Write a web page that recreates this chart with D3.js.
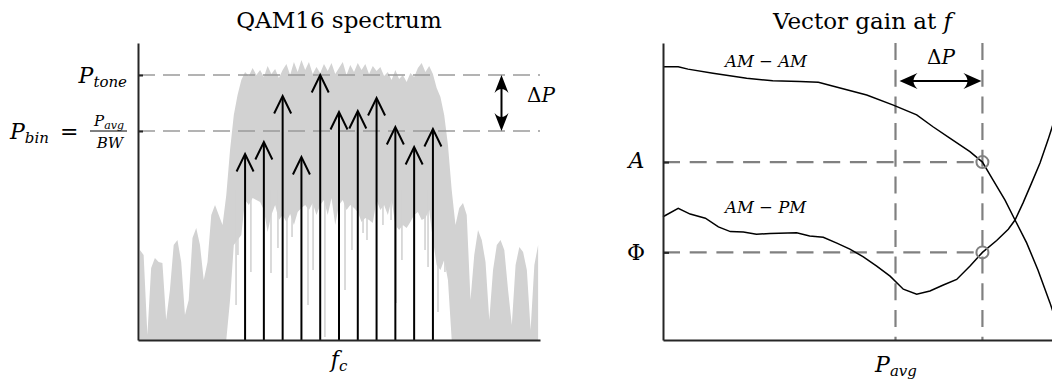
<!DOCTYPE html>
<html>
<head>
<meta charset="utf-8">
<script src="https://cdn.jsdelivr.net/npm/d3@7"></script>
<style>
  body { margin: 0; background: #fff; }
  svg { display: block; font-family: "DejaVu Serif", serif; }
</style>
</head>
<body>
<svg id="chart" width="1052" height="381"></svg>
<script>
// ---------- QAM16 spectrum (left) ----------
// spectrum bins: 0.2 MHz apart, first bin at -10.6 MHz; levels in dB
const specStart = -10.6, specStep = 0.2;
const specUpper = [
  -42, -43, -59, -45.6, -43.6, -44.4, -44.6, -56, -50, -41,
  -40, -44.4, -55, -52, -39.6, -37.6, -41, -48, -44.4, -35,
  -33, -35, -37, -31, -22, -15, -11, -8, -6.4, -7.2,
  -5.6, -7, -6, -7.4, -5.2, -6.8, -5.8, -7.6, -6, -4.8,
  -7, -4.4, -6.4, -4, -6, -4.4, -6.8, -5.4, -6.6, -4.8,
  -6.2, -4.6, -6.8, -5.6, -4.4, -7, -5, -6.4, -4.6, -6,
  -4.8, -6.8, -5.2, -6.2, -5.4, -7.2, -6.4, -8, -6, -7.8,
  -7, -8.4, -6.6, -7.4, -5.6, -4.6, -6.4, -5.2, -6.8, -9.6,
  -11.4, -15, -21, -30, -37, -33.6, -32.6, -35, -52, -43,
  -38, -40, -44.4, -56, -46, -41, -40, -42, -50, -57,
  -45, -41.4, -42.4, -46, -58, -45, -41
];
const specLower = [
  -60, -60, -60, -60, -60, -60, -60, -60, -60, -60,
  -60, -60, -60, -60, -60, -60, -60, -60, -60, -60,
  -60, -60, -60, -60, -52, -41, -40, -39, -32, -33,
  -31.6, -32, -32.4, -34, -38.4, -35, -33, -36, -35, -36.4,
  -34.8, -37, -34.4, -33.6, -33, -34, -32.6, -35, -33, -32,
  -35, -31.6, -37, -33, -32, -34, -33, -33.6, -34.4, -36.4,
  -35.6, -36, -36.6, -32, -34, -33, -35, -32, -37, -38,
  -37, -37.6, -36.4, -35, -34.4, -36, -35.6, -34, -40, -45,
  -46, -44, -48, -60, -60, -60, -60, -60, -60, -60,
  -60, -60, -60, -60, -60, -60, -60, -60, -60, -60,
  -60, -60, -60, -60, -60, -60, -60
];
// deep notches inside the occupied band: [MHz, dB]
const specDips = [
  [-5.48, -53], [-5.38, -43], [-4.69, -46.4], [-3.62, -46.6], [-3.25, -41.6],
  [-2.77, -47.6], [-2.5, -39.4], [-1.65, -53], [-1.38, -46], [-0.75, -59.4],
  [0.32, -50], [0.69, -42], [1.28, -38.6], [1.49, -40], [2.34, -37],
  [2.77, -36], [3.04, -52.6], [3.35, -44], [4.58, -42], [4.74, -45.4],
  [5.27, -54.4], [5.64, -46.4]
];
// multitone stimulus: offsets from fc (MHz) and tone powers (dB)
const toneOffsets = [-5, -4, -3, -2, -1, 0, 1, 2, 3, 4, 5];
const toneLevels = [-22.8, -20.4, -11.2, -23.4, -7, -14.4, -14.2, -11.6, -17.4, -21.4, -17.8];
const pTone = -7, pBin = -18.2;

// ---------- vector gain (right) ----------
const amamIn  = [-31.4, -30, -29.1, -26.8, -23.7, -21.3, -18.8, -17.1, -15.8, -12.65, -10.2, -8.05,
                 -6.55, -5, -3.15, -2, -1.03, 0.08, 1, 2.07, 3.11, 4.22, 4.68];
const amamOut = [0.92, 0.92, 0.912, 0.898, 0.881, 0.873, 0.87, 0.868, 0.855, 0.825, 0.791, 0.758,
                 0.718, 0.68, 0.634, 0.599, 0.539, 0.471, 0.404, 0.327, 0.236, 0.125, 0.074];
const ampmIn  = [-31.4, -30, -28.9, -27.5, -26.3, -25.2, -24, -22.8, -21.55, -19.1, -17.9, -16.65,
                 -15.4, -14.2, -12.96, -11.73, -10.5, -9.28, -8.05, -6.83, -5.6, -4.37, -3.14, -2,
                 -0.69, 0.38, 1, 1.73, 2.53, 3.3, 4.03, 4.68];
const ampmOut = [0.415, 0.443, 0.424, 0.41, 0.381, 0.365, 0.364, 0.356, 0.359, 0.361, 0.35, 0.346,
                 0.326, 0.306, 0.28, 0.249, 0.215, 0.171, 0.154, 0.165, 0.185, 0.204, 0.249, 0.295,
                 0.335, 0.373, 0.404, 0.461, 0.529, 0.596, 0.673, 0.747];
const pAvg = -10, deltaP = 8;
const levelA = 0.599, levelPhi = 0.295;

// ---------- drawing ----------
const svg = d3.select("#chart");
const AXIS = "#262626", GREY = "#d2d2d2";

// arrowhead with a concave back ("stealth"), tip at (tx,ty) pointing along (dx,dy)
function stealth(tx, ty, dx, dy, len, hw) {
  const nx = -dy, ny = dx;
  const b1 = [tx - len * dx + hw * nx, ty - len * dy + hw * ny];
  const b2 = [tx - len * dx - hw * nx, ty - len * dy - hw * ny];
  const c = [tx - 0.55 * len * dx, ty - 0.55 * len * dy];
  return `M${tx},${ty}L${b1[0]},${b1[1]}Q${c[0]},${c[1]} ${b2[0]},${b2[1]}Z`;
}

// text made of runs: [text, italic, size, dy]
function runs(g, x, y, anchor, parts) {
  const t = g.append("text").attr("x", x).attr("y", y).attr("text-anchor", anchor).attr("fill", "#000");
  parts.forEach(([s, it, size, dy]) => {
    t.append("tspan").text(s)
      .attr("font-style", it ? "italic" : "normal")
      .attr("font-size", size)
      .attr("dy", dy || 0);
  });
  return t;
}

// ===== left panel =====
const xL = d3.scaleLinear().domain([-10.7, 10.7]).range([138, 540]);
const yL = d3.scaleLinear().domain([-60, -0.6]).range([340, 43]);
const gL = svg.append("g");

const specFreq = specUpper.map((_, i) => specStart + i * specStep);
const area = d3.area()
  .x((d, i) => xL(specFreq[i]))
  .y0((d, i) => yL(specLower[i]))
  .y1(d => yL(d));
gL.append("path").datum(specUpper).attr("d", area).attr("fill", GREY);

gL.selectAll("line.dip").data(specDips).join("line")
  .attr("x1", d => xL(d[0])).attr("x2", d => xL(d[0]))
  .attr("y1", yL(-30)).attr("y2", d => yL(d[1]))
  .attr("stroke", GREY).attr("stroke-width", 1.6);

// reference levels
[pTone, pBin].forEach(v => {
  gL.append("line")
    .attr("x1", xL(-10.7)).attr("x2", xL(10.7))
    .attr("y1", yL(v)).attr("y2", yL(v))
    .attr("stroke", "#9a9a9a").attr("stroke-width", 1.3)
    .attr("stroke-dasharray", "17,8");
});

// tones
const tones = gL.selectAll("g.tone").data(toneOffsets).join("g");
tones.append("line")
  .attr("x1", d => xL(d)).attr("x2", d => xL(d))
  .attr("y1", yL(-60)).attr("y2", (d, i) => yL(toneLevels[i]) + 1)
  .attr("stroke", "#000").attr("stroke-width", 2);
tones.append("path")
  .attr("d", (d, i) => {
    const x = xL(d), y = yL(toneLevels[i]);
    return `M${x - 8.5},${y + 17.5}L${x},${y}L${x + 8.5},${y + 17.5}`;
  })
  .attr("fill", "none").attr("stroke", "#000").attr("stroke-width", 2)
  .attr("stroke-linejoin", "miter");

// axes
const axL = gL.append("g").attr("transform", `translate(${xL(-10.7)},0)`)
  .call(d3.axisLeft(yL).tickValues([pTone, pBin]).tickSizeInner(-5).tickSizeOuter(0).tickFormat(""));
const axB = gL.append("g").attr("transform", `translate(0,${yL(-60)})`)
  .call(d3.axisBottom(xL).tickValues([]).tickSizeOuter(0));
[axL, axB].forEach(a => {
  a.select(".domain").attr("stroke", AXIS).attr("stroke-width", 2);
  a.selectAll(".tick line").attr("stroke", AXIS).attr("stroke-width", 2);
});

// level ΔP
const dpx = xL(8.65);
gL.append("line").attr("x1", dpx).attr("x2", dpx)
  .attr("y1", yL(pTone) + 12).attr("y2", yL(pBin) - 12)
  .attr("stroke", "#000").attr("stroke-width", 2);
gL.append("path").attr("d", stealth(dpx, yL(pTone), 0, -1, 18, 7));
gL.append("path").attr("d", stealth(dpx, yL(pBin), 0, 1, 18, 7));
runs(gL, 527, 102, "start", [["Δ", false, 20], ["P", true, 20]]);

// labels
runs(gL, 339, 28, "middle", [["QAM16 spectrum", false, 23]]);
runs(gL, 127, 83, "end", [["P", true, 22], ["tone", true, 15, 4]]);
runs(gL, 10, 139, "start", [["P", true, 22], ["bin", true, 15, 4]]);
runs(gL, 60, 139, "start", [["=", false, 22]]);
runs(gL, 109, 126, "middle", [["P", true, 15], ["avg", true, 11, 3]]);
gL.append("line").attr("x1", 90).attr("x2", 127).attr("y1", 131).attr("y2", 131)
  .attr("stroke", "#000").attr("stroke-width", 1);
runs(gL, 110, 148, "middle", [["BW", true, 15]]);
runs(gL, 339, 367, "middle", [["f", true, 22], ["c", true, 15, 4]]);

// ===== right panel =====
const xR = d3.scaleLinear().domain([-31.4, 5.6]).range([663, 1065]);
const yR = d3.scaleLinear().domain([0, 1]).range([340, 43]);
const gR = svg.append("g");
const DASH = "#808080";

const pHi = pAvg + deltaP;
// guide lines
[pAvg, pHi].forEach(p => {
  gR.append("line").attr("x1", xR(p)).attr("x2", xR(p))
    .attr("y1", yR(1)).attr("y2", yR(0))
    .attr("stroke", DASH).attr("stroke-width", 2.2).attr("stroke-dasharray", "17,9.7");
});
[levelA, levelPhi].forEach(v => {
  gR.append("line").attr("x1", xR(-31.4)).attr("x2", xR(pHi))
    .attr("y1", yR(v)).attr("y2", yR(v))
    .attr("stroke", DASH).attr("stroke-width", 2.2).attr("stroke-dasharray", "17,9.7");
});

const line = d3.line().x(d => xR(d[0])).y(d => yR(d[1]));
gR.append("path").datum(amamIn.map((v, i) => [v, amamOut[i]])).attr("d", line)
  .attr("fill", "none").attr("stroke", "#000").attr("stroke-width", 1.5);
gR.append("path").datum(ampmIn.map((v, i) => [v, ampmOut[i]])).attr("d", line)
  .attr("fill", "none").attr("stroke", "#000").attr("stroke-width", 1.5);

[levelA, levelPhi].forEach(v => {
  gR.append("circle").attr("cx", xR(pHi)).attr("cy", yR(v)).attr("r", 6)
    .attr("fill", "none").attr("stroke", DASH).attr("stroke-width", 2);
});

// input power step ΔP
const ay = yR(0.872);
gR.append("line").attr("x1", xR(pAvg) + 12).attr("x2", xR(pHi) - 12)
  .attr("y1", ay).attr("y2", ay).attr("stroke", "#000").attr("stroke-width", 2);
gR.append("path").attr("d", stealth(xR(pAvg) + 4, ay, -1, 0, 18, 8));
gR.append("path").attr("d", stealth(xR(pHi) - 1, ay, 1, 0, 18, 8));
runs(gR, 941, 64, "middle", [["Δ", false, 20], ["P", true, 20]]);

const axR = gR.append("g").attr("transform", `translate(${xR(-31.4)},0)`)
  .call(d3.axisLeft(yR).tickValues([levelA, levelPhi]).tickSizeInner(-6).tickSizeOuter(0).tickFormat(""));
const axRB = gR.append("g").attr("transform", `translate(0,${yR(0)})`)
  .call(d3.axisBottom(xR).tickValues([]).tickSizeOuter(0));
[axR, axRB].forEach(a => {
  a.select(".domain").attr("stroke", AXIS).attr("stroke-width", 2);
  a.selectAll(".tick line").attr("stroke", AXIS).attr("stroke-width", 2);
});

runs(gR, 862.5, 29, "middle", [["Vector gain at ", false, 23], ["f", true, 23]]);
runs(gR, 636.5, 168, "middle", [["A", true, 22]]);
runs(gR, 636, 260, "middle", [["Φ", false, 22]]);
runs(gR, 725, 67, "start", [["AM − AM", true, 16.5]]);
runs(gR, 725, 213, "start", [["AM − PM", true, 16.5]]);
runs(gR, 896, 372, "middle", [["P", true, 22], ["avg", true, 15, 4]]);
</script>
</body>
</html>
